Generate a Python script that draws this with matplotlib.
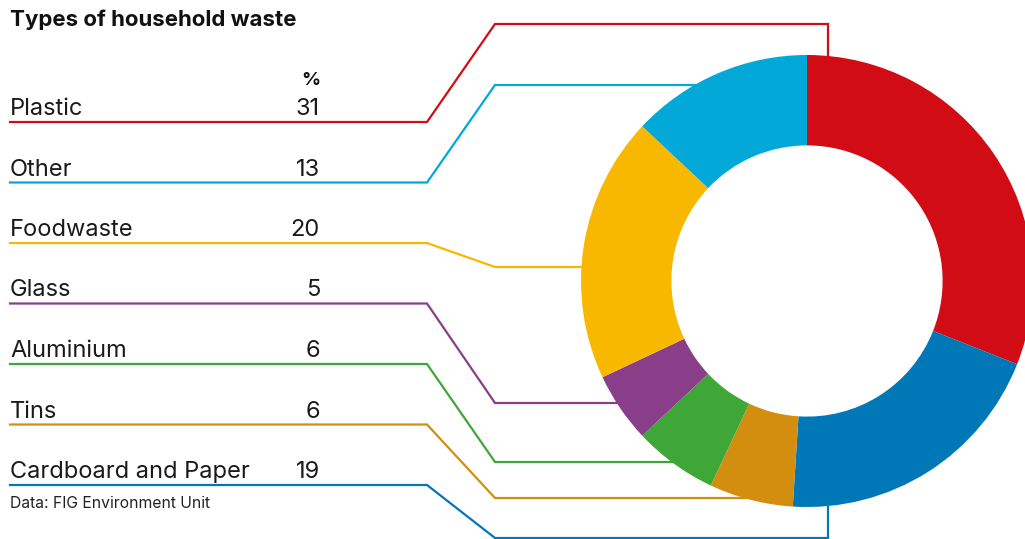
import numpy as np
import matplotlib.pyplot as plt

plt.rcParams["font.family"] = ["Inter", "DejaVu Sans"]

# legend order (top to bottom on the left)
labels = ["Plastic", "Other", "Foodwaste", "Glass", "Aluminium", "Tins", "Cardboard and Paper"]
values = [31, 13, 20, 5, 6, 6, 19]
colors = ["#D20C14", "#02A9D8", "#F9B800", "#8A3D88", "#3FA738", "#D38E10", "#0077B7"]

# donut order, clockwise from 12 o'clock, with slice shares as drawn in the picture
ring_order = ["Plastic", "Cardboard and Paper", "Tins", "Aluminium", "Glass", "Foodwaste", "Other"]
ring_share = [31, 20, 6, 6, 5, 19, 13]

W, H = 1025, 539
fig = plt.figure(figsize=(W / 100, H / 100), dpi=100)
ax = fig.add_axes([0, 0, 1, 1])
ax.set_xlim(0, W)
ax.set_ylim(H, 0)
ax.axis("off")

# donut
cx, cy, r = 807, 281, 226
pax = fig.add_axes([(cx - r) / W, 1 - (cy + r) / H, 2 * r / W, 2 * r / H])
ring_cols = [colors[labels.index(n)] for n in ring_order]
pax.pie(ring_share, colors=ring_cols, startangle=90, counterclock=False,
        radius=1, wedgeprops=dict(width=0.4, linewidth=0))
pax.set_aspect("auto")
pax.set_xlim(-1, 1)
pax.set_ylim(-1, 1)
pax.set_zorder(2)
pax.patch.set_alpha(0)

# title and header
ax.text(10, 26, "Types of household waste", fontsize=16, fontweight="bold",
        va="baseline", ha="left", color="#111111")
ax.text(320, 85, "%", fontsize=13.5, fontweight="bold", va="baseline", ha="right",
        color="#111111")

# leader lines: underline y, y after the bend, where the leader ends
y0 = 122
step = 60.5
bend_y = [24, 85, 267, 403, 462, 498, 538]
end_x = [828, 700, 585, 640, 700, 760, 828]
end_y = [55, None, None, None, None, None, 507]

for i, (lab, val, col) in enumerate(zip(labels, values, colors)):
    y = y0 + i * step
    ax.text(10, y - 7, lab, fontsize=17, va="baseline",
            ha="left", color="#1a1a1a")
    ax.text(320, y - 7, str(val), fontsize=17, va="baseline",
            ha="right", color="#1a1a1a")
    xs = [10, 427, 495, end_x[i]]
    ys = [y, y, bend_y[i], bend_y[i]]
    if end_y[i] is not None:
        xs.append(end_x[i])
        ys.append(end_y[i])
    ax.plot(xs, ys, color=col, lw=1.6, solid_joinstyle="miter", zorder=1)

ax.text(10, 508, "Data: FIG Environment Unit", fontsize=11.3, va="baseline",
        ha="left", color="#222222")

fig.savefig("out.png", dpi=100)
